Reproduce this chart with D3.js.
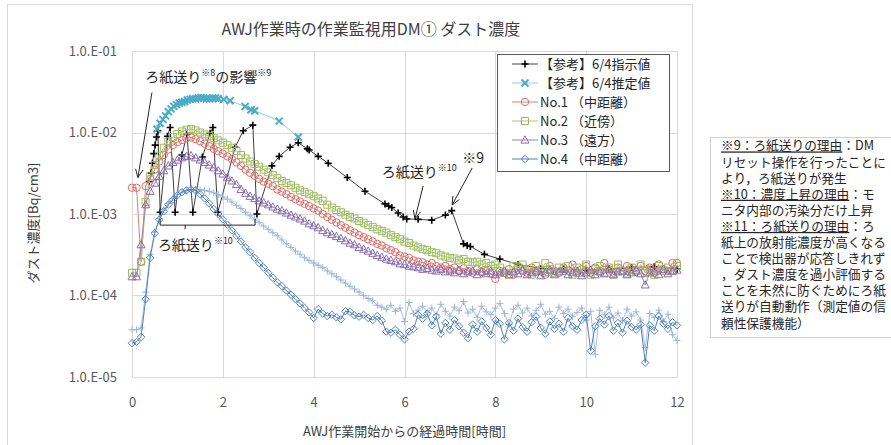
<!DOCTYPE html>
<html>
<head>
<meta charset="utf-8">
<script src="https://cdn.jsdelivr.net/npm/d3@7"></script>
<style>
body { margin: 0; background: #fff; }
text { font-family: "Noto Sans CJK JP", "Noto Sans", sans-serif; }
</style>
</head>
<body>
<svg width="891" height="445"></svg>
<script>
// Sample times (hours) for the monitor series
const hours = [0.0,0.1,0.2,0.3,0.4,0.5,0.6,0.7,0.8,0.9,1.0,1.1,1.2,1.3,1.4,1.5,1.6,1.7,1.8,1.9,
  2.0,2.1,2.2,2.3,2.4,2.5,2.6,2.7,2.8,2.9,3.0,3.1,3.2,3.3,3.4,3.5,3.6,3.7,3.8,3.9,
  4.0,4.1,4.2,4.3,4.4,4.5,4.6,4.7,4.8,4.9,5.0,5.1,5.2,5.3,5.4,5.5,5.6,5.7,5.8,5.9,
  6.0,6.1,6.2,6.3,6.4,6.5,6.6,6.7,6.8,6.9,7.0,7.1,7.2,7.3,7.4,7.5,7.6,7.7,7.8,7.9,
  8.0,8.1,8.2,8.3,8.4,8.5,8.6,8.7,8.8,8.9,9.0,9.1,9.2,9.3,9.4,9.5,9.6,9.7,9.8,9.9,
  10.0,10.1,10.2,10.3,10.4,10.5,10.6,10.7,10.8,10.9,11.0,11.1,11.2,11.3,11.4,11.5,11.6,11.7,11.8,11.9,12.0];

// No.1 (中距離)
const no1 = [2.1e-3,2.1e-3,2.6e-4,2.2e-3,2.7e-3,3.5e-3,4.4e-3,5.3e-3,6.2e-3,7.0e-3,7.6e-3,8.1e-3,8.5e-3,8.7e-3,8.3e-3,7.8e-3,7.3e-3,6.8e-3,6.3e-3,5.9e-3,
  5.5e-3,5.1e-3,4.7e-3,4.3e-3,3.9e-3,3.5e-3,3.2e-3,2.95e-3,2.7e-3,2.5e-3,2.35e-3,2.2e-3,2.0e-3,1.88e-3,1.75e-3,1.62e-3,1.52e-3,1.42e-3,1.33e-3,1.25e-3,
  1.17e-3,1.1e-3,1.0e-3,9.2e-4,8.5e-4,7.9e-4,7.3e-4,6.8e-4,6.3e-4,5.9e-4,5.5e-4,5.2e-4,4.9e-4,4.6e-4,4.3e-4,4.1e-4,3.8e-4,3.6e-4,3.4e-4,3.1e-4,
  3.0e-4,2.9e-4,2.7e-4,2.6e-4,2.55e-4,2.4e-4,2.5e-4,2.3e-4,2.2e-4,2.3e-4,2.1e-4,2.2e-4,2.0e-4,2.15e-4,2.0e-4,1.9e-4,2.1e-4,1.95e-4,2.0e-4,1.85e-4,
  1.6e-4,2.0e-4,1.9e-4,2.1e-4,1.8e-4,2.3e-4,2.0e-4,1.9e-4,2.2e-4,1.95e-4,2.1e-4,1.8e-4,2.3e-4,2.0e-4,1.9e-4,2.2e-4,2.0e-4,2.4e-4,1.9e-4,2.1e-4,
  2.3e-4,1.9e-4,2.2e-4,2.0e-4,2.5e-4,2.1e-4,1.9e-4,2.2e-4,2.0e-4,2.3e-4,2.1e-4,1.95e-4,2.3e-4,2.0e-4,2.2e-4,1.9e-4,2.4e-4,2.1e-4,2.0e-4,2.5e-4,2.5e-4];

// No.2 (近傍)
const no2 = [1.9e-4,1.9e-4,2.6e-4,1.4e-3,2.9e-3,4.0e-3,5.2e-3,6.5e-3,7.8e-3,8.8e-3,9.6e-3,1.03e-2,1.08e-2,1.1e-2,1.06e-2,1.0e-2,9.5e-3,9.0e-3,8.5e-3,8.0e-3,
  7.5e-3,7.0e-3,6.5e-3,5.9e-3,5.3e-3,4.8e-3,4.4e-3,4.1e-3,3.8e-3,3.5e-3,3.25e-3,3.0e-3,2.75e-3,2.55e-3,2.4e-3,2.25e-3,2.1e-3,1.95e-3,1.85e-3,1.75e-3,
  1.65e-3,1.55e-3,1.45e-3,1.3e-3,1.2e-3,1.12e-3,1.05e-3,9.8e-4,9.2e-4,8.8e-4,8.2e-4,7.8e-4,7.3e-4,6.9e-4,6.5e-4,6.2e-4,5.9e-4,5.5e-4,5.2e-4,4.9e-4,
  4.6e-4,4.4e-4,4.1e-4,3.9e-4,3.7e-4,3.6e-4,3.4e-4,3.3e-4,3.1e-4,3.0e-4,2.9e-4,2.85e-4,2.7e-4,2.8e-4,2.6e-4,2.55e-4,2.6e-4,2.4e-4,2.5e-4,2.3e-4,
  2.4e-4,2.2e-4,1.9e-4,1.8e-4,2.3e-4,2.2e-4,2.4e-4,2.1e-4,1.8e-4,2.3e-4,2.0e-4,2.5e-4,2.1e-4,1.9e-4,2.2e-4,2.0e-4,2.3e-4,1.8e-4,2.2e-4,1.9e-4,
  2.4e-4,1.8e-4,2.1e-4,2.3e-4,1.9e-4,2.2e-4,1.8e-4,2.4e-4,2.0e-4,1.85e-4,2.2e-4,2.0e-4,2.4e-4,1.9e-4,2.1e-4,1.8e-4,2.3e-4,2.0e-4,2.2e-4,2.0e-4,2.3e-4];

// No.3 (遠方)
const no3 = [1.7e-4,1.7e-4,4.2e-4,1.3e-3,1.9e-3,2.4e-3,2.9e-3,3.4e-3,3.9e-3,4.3e-3,4.6e-3,4.9e-3,5.1e-3,5.2e-3,4.9e-3,4.6e-3,4.3e-3,4.0e-3,3.7e-3,3.4e-3,
  3.1e-3,2.8e-3,2.55e-3,2.3e-3,2.0e-3,1.8e-3,1.65e-3,1.55e-3,1.45e-3,1.37e-3,1.3e-3,1.22e-3,1.15e-3,1.1e-3,1.03e-3,9.7e-4,9.2e-4,8.7e-4,8.2e-4,7.6e-4,
  7.2e-4,6.8e-4,6.3e-4,5.9e-4,5.6e-4,5.3e-4,5.0e-4,4.7e-4,4.4e-4,4.2e-4,3.9e-4,3.7e-4,3.5e-4,3.3e-4,3.1e-4,2.95e-4,2.8e-4,2.7e-4,2.6e-4,2.45e-4,
  2.4e-4,2.3e-4,2.25e-4,2.2e-4,2.1e-4,2.15e-4,2.05e-4,2.0e-4,2.1e-4,1.95e-4,2.0e-4,1.9e-4,2.05e-4,1.85e-4,1.95e-4,2.0e-4,1.8e-4,1.95e-4,1.85e-4,2.0e-4,
  1.8e-4,1.9e-4,2.0e-4,1.8e-4,1.95e-4,1.85e-4,2.05e-4,1.8e-4,1.9e-4,2.0e-4,1.75e-4,1.9e-4,2.05e-4,1.8e-4,1.95e-4,2.1e-4,1.8e-4,1.9e-4,2.0e-4,1.75e-4,
  1.9e-4,2.05e-4,1.8e-4,1.95e-4,1.85e-4,2.1e-4,1.8e-4,1.95e-4,2.0e-4,1.8e-4,1.9e-4,2.05e-4,1.85e-4,1.35e-4,1.9e-4,2.0e-4,1.8e-4,2.1e-4,1.85e-4,2.0e-4,2.05e-4];

// No.4 (中距離)
const no4 = [2.6e-5,2.7e-5,3.1e-5,9.0e-5,2.9e-4,5.8e-4,8.5e-4,1.08e-3,1.3e-3,1.5e-3,1.7e-3,1.85e-3,1.95e-3,2.0e-3,1.95e-3,1.75e-3,1.55e-3,1.35e-3,1.15e-3,1.0e-3,
  8.6e-4,7.4e-4,6.3e-4,5.4e-4,4.6e-4,3.9e-4,3.4e-4,2.9e-4,2.5e-4,2.2e-4,1.9e-4,1.65e-4,1.45e-4,1.3e-4,1.15e-4,1.02e-4,9.0e-5,8.0e-5,7.0e-5,6.2e-5,
  5.3e-5,6.8e-5,6.0e-5,5.6e-5,5.8e-5,5.4e-5,5.1e-5,6.4e-5,6.3e-5,5.7e-5,5.5e-5,5.8e-5,5.3e-5,5.0e-5,5.6e-5,4.9e-5,3.6e-5,3.5e-5,3.8e-5,3.3e-5,
  2.9e-5,3.6e-5,3.9e-5,5.8e-5,5.2e-5,6.0e-5,4.3e-5,5.5e-5,3.4e-5,4.6e-5,3.8e-5,5.0e-5,4.2e-5,3.5e-5,3.0e-5,4.4e-5,3.6e-5,4.8e-5,4.0e-5,3.3e-5,
  5.0e-5,4.5e-5,2.9e-5,4.6e-5,3.7e-5,5.2e-5,4.1e-5,3.6e-5,4.7e-5,5.5e-5,4.0e-5,3.4e-5,4.8e-5,3.9e-5,4.5e-5,3.6e-5,5.3e-5,4.2e-5,3.8e-5,5.0e-5,
  5.8e-5,2.1e-5,4.2e-5,5.2e-5,4.4e-5,5.6e-5,3.7e-5,4.6e-5,3.5e-5,4.9e-5,4.1e-5,3.8e-5,4.4e-5,1.5e-5,4.3e-5,3.7e-5,5.6e-5,4.5e-5,3.9e-5,4.7e-5,4.3e-5];

// unlabeled light-blue series
const extra = [3.8e-5,3.8e-5,4.0e-5,1.1e-4,3.2e-4,6.0e-4,8.8e-4,1.12e-3,1.35e-3,1.55e-3,1.72e-3,1.85e-3,1.95e-3,2.0e-3,2.0e-3,1.98e-3,1.95e-3,1.9e-3,1.82e-3,1.72e-3,
  1.62e-3,1.52e-3,1.4e-3,1.28e-3,1.17e-3,1.05e-3,9.5e-4,8.7e-4,7.9e-4,7.1e-4,6.5e-4,5.9e-4,5.4e-4,4.8e-4,4.3e-4,3.9e-4,3.5e-4,3.2e-4,2.9e-4,2.7e-4,
  2.5e-4,2.35e-4,2.2e-4,2.0e-4,1.85e-4,1.7e-4,1.55e-4,1.42e-4,1.3e-4,1.2e-4,1.1e-4,1.0e-4,9.2e-5,8.6e-5,7.6e-5,7.2e-5,6.8e-5,7.6e-5,6.4e-5,7.0e-5,
  4.8e-5,8.2e-5,6.0e-5,6.6e-5,7.4e-5,6.2e-5,7.0e-5,5.8e-5,7.8e-5,6.4e-5,5.6e-5,7.2e-5,6.5e-5,8.4e-5,6.1e-5,6.8e-5,5.4e-5,7.4e-5,6.3e-5,5.8e-5,
  7.0e-5,8.0e-5,6.0e-5,4.4e-5,6.8e-5,7.6e-5,6.1e-5,7.0e-5,5.6e-5,6.6e-5,7.8e-5,5.9e-5,6.4e-5,5.2e-5,7.2e-5,6.0e-5,6.8e-5,5.5e-5,6.2e-5,7.0e-5,
  5.0e-5,6.4e-5,1.9e-5,6.6e-5,5.8e-5,7.2e-5,5.3e-5,6.1e-5,4.9e-5,6.8e-5,5.6e-5,6.3e-5,5.0e-5,2.3e-5,6.0e-5,5.4e-5,6.6e-5,4.8e-5,5.9e-5,3.3e-5,2.8e-5];

// 【参考】6/4推定値
const estHours = [0.55,0.62,0.68,0.74,0.8,0.86,0.92,0.98,1.04,1.1,1.16,1.22,1.28,1.34,1.4,1.46,1.52,1.58,1.64,1.7,1.78,1.84,1.9,2.02,2.16,2.49,2.62,2.7,3.24,3.66];
const estValues = [1.1e-2,1.3e-2,1.45e-2,1.6e-2,1.8e-2,1.95e-2,2.1e-2,2.2e-2,2.3e-2,2.35e-2,2.4e-2,2.5e-2,2.55e-2,2.6e-2,2.6e-2,2.65e-2,2.7e-2,2.65e-2,2.6e-2,2.6e-2,2.65e-2,2.65e-2,2.6e-2,2.55e-2,2.45e-2,2.08e-2,1.9e-2,1.85e-2,1.38e-2,8.8e-3];

// 【参考】6/4指示値
const indHours = [0.38,0.42,0.45,0.48,0.51,0.54,0.57,0.62,0.78,0.84,0.95,1.1,1.21,1.34,1.55,1.72,1.78,1.89,2.27,2.45,2.66,2.75,
  3.08,3.24,3.48,3.66,3.86,3.9,4.1,4.32,4.74,5.13,5.57,5.65,5.72,5.86,5.97,6.05,6.3,6.6,6.9,7.04,7.3,7.38,7.45,7.76,8.1,8.5,9.0,9.5,10.0,10.5,11.0,11.5,12.0];
const indValues = [2.5e-3,3.2e-3,4.2e-3,5.5e-3,7.0e-3,8.8e-3,1.05e-2,1.05e-3,9.0e-3,1.15e-2,1.05e-3,5.3e-3,9.5e-3,1.05e-3,5.0e-3,9.8e-3,1.15e-2,1.05e-3,6.6e-3,1.05e-2,1.23e-2,1.0e-3,
  3.9e-3,5.1e-3,6.6e-3,7.5e-3,6.3e-3,6.1e-3,5.1e-3,4.2e-3,2.8e-3,1.9e-3,1.33e-3,1.25e-3,1.2e-3,1.03e-3,9.2e-4,8.7e-4,8.6e-4,8.4e-4,9.7e-4,1.1e-3,4.3e-4,4.1e-4,4.0e-4,3.2e-4,2.8e-4,2.4e-4,2.15e-4,2.1e-4,2.05e-4,2.1e-4,2.2e-4,2.25e-4,2.1e-4];

const xTicks = [0, 2, 4, 6, 8, 10, 12];
const yTicks = [1e-5, 1e-4, 1e-3, 1e-2, 1e-1];
const yTickLabels = ["1.0.E-05", "1.0.E-04", "1.0.E-03", "1.0.E-02", "1.0.E-01"];

const legendNames = ["【参考】6/4指示値", "【参考】6/4推定値", "No.1 （中距離）", "No.2 （近傍）", "No.3 （遠方）", "No.4 （中距離）"];

const noteLines = [
  ["※9：ろ紙送りの理由", "：DM"],
  ["", "リセット操作を行ったことに"],
  ["", "より，ろ紙送りが発生"],
  ["※10：濃度上昇の理由", "：モ"],
  ["", "ニタ内部の汚染分だけ上昇"],
  ["※11：ろ紙送りの理由", "：ろ"],
  ["", "紙上の放射能濃度が高くなる"],
  ["", "ことで検出器が応答しきれず"],
  ["", "，ダスト濃度を過小評価する"],
  ["", "ことを未然に防ぐためにろ紙"],
  ["", "送りが自動動作（測定値の信"],
  ["", "頼性保護機能）"]
];

const svg = d3.select("svg");
const plot = { left: 132, right: 677, top: 51, bottom: 377 };

const x = d3.scaleLinear().domain([0, 12]).range([plot.left, plot.right]);
const y = d3.scaleLog().domain([1e-5, 1e-1]).range([plot.bottom, plot.top]);

// chart area border
svg.append("rect").attr("x", 7.5).attr("y", 4.5).attr("width", 685).attr("height", 460)
  .attr("fill", "none").attr("stroke", "#d9d9d9");

// grid
svg.append("g").selectAll("line").data(yTicks).join("line")
  .attr("x1", plot.left).attr("x2", plot.right)
  .attr("y1", d => Math.round(y(d)) + 0.5).attr("y2", d => Math.round(y(d)) + 0.5)
  .attr("stroke", "#d9d9d9");
svg.append("g").selectAll("line").data(xTicks).join("line")
  .attr("y1", plot.top).attr("y2", plot.bottom)
  .attr("x1", d => Math.round(x(d)) + 0.5).attr("x2", d => Math.round(x(d)) + 0.5)
  .attr("stroke", "#d9d9d9");

// axes
const yAxis = svg.append("g").attr("transform", `translate(${plot.left},0)`)
  .call(d3.axisLeft(y).tickValues(yTicks).tickFormat((d, i) => yTickLabels[i]).tickSize(0).tickPadding(15));
const xAxis = svg.append("g").attr("transform", `translate(0,${plot.bottom})`)
  .call(d3.axisBottom(x).tickValues(xTicks).tickFormat(d3.format("d")).tickSize(0).tickPadding(21));
[yAxis, xAxis].forEach(a => {
  a.select(".domain").remove();
  a.selectAll("text").attr("fill", "#595959").style("font-size", "13px")
    .style("font-family", "'Noto Sans CJK JP', sans-serif");
});

// titles
svg.append("text").attr("x", 371).attr("y", 35).attr("text-anchor", "middle")
  .attr("fill", "#404040").style("font-size", "16px").text("AWJ作業時の作業監視用DM① ダスト濃度");
svg.append("text").attr("x", (plot.left + plot.right) / 2).attr("y", 436).attr("text-anchor", "middle")
  .attr("fill", "#404040").style("font-size", "13px").text("AWJ作業開始からの経過時間[時間]");
svg.append("text").attr("transform", "translate(38,223) rotate(-90)").attr("text-anchor", "middle")
  .attr("fill", "#404040").style("font-size", "13px").text("ダスト濃度[Bq/cm3]");

// marker shapes
const shapes = {
  plus: "M-3.5,0H3.5M0,-3.5V3.5",
  cross: "M-3.5,-3.5L3.5,3.5M-3.5,3.5L3.5,-3.5",
  circle: "M3.7,0A3.7,3.7 0 1,1 -3.7,0A3.7,3.7 0 1,1 3.7,0Z",
  square: "M-3.5,-3.5H3.5V3.5H-3.5Z",
  triangle: "M0,-4.2L4,3.1H-4Z",
  diamond: "M0,-3.7L3.7,0L0,3.7L-3.7,0Z"
};

const indicated = { xs: indHours, ys: indValues, line: "#404040", mark: "#000000", shape: "plus", sw: 1.6 };
const estimated = { xs: estHours, ys: estValues, line: "#8fd0e0", mark: "#4bacc6", shape: "cross", sw: 2 };
const s1 = { xs: hours, ys: no1, line: "#e07b78", mark: "#e06c68", shape: "circle", sw: 1 };
const s2 = { xs: hours, ys: no2, line: "#a9c77a", mark: "#9bbb59", shape: "square", sw: 1 };
const s3 = { xs: hours, ys: no3, line: "#9b86b8", mark: "#8a6db0", shape: "triangle", sw: 1 };
const s4 = { xs: hours, ys: no4, line: "#4f81bd", mark: "#4f81bd", shape: "diamond", sw: 1 };
const sx = { xs: hours, ys: extra, line: "#a9c0de", mark: "#9bb5da", shape: "plus", sw: 1 };

// draw order: reference series first, monitors on top
const drawOrder = [indicated, estimated, s1, s2, s3, sx, s4];

const line = d3.line().x(d => x(d[0])).y(d => y(d[1]));

drawOrder.forEach(s => {
  const pts = s.xs.map((h, i) => [h, s.ys[i]]);
  const g = svg.append("g");
  g.append("path").attr("d", line(pts)).attr("fill", "none")
    .attr("stroke", s.line).attr("stroke-width", 1);
  g.selectAll("path.m").data(pts).join("path").attr("class", "m")
    .attr("transform", d => `translate(${x(d[0])},${y(d[1])})`)
    .attr("d", shapes[s.shape]).attr("fill", "none")
    .attr("stroke", s.mark).attr("stroke-width", s.sw);
});

// annotations
function arrow(t1, v1, t2, v2) {
  const x1 = x(t1), y1 = y(v1), x2 = x(t2), y2 = y(v2);
  const a = Math.atan2(y2 - y1, x2 - x1);
  const len = 9, spread = 0.42;
  svg.append("path")
    .attr("d", `M${x1},${y1}L${x2},${y2}` +
      `M${x2 - len * Math.cos(a - spread)},${y2 - len * Math.sin(a - spread)}L${x2},${y2}` +
      `L${x2 - len * Math.cos(a + spread)},${y2 - len * Math.sin(a + spread)}`)
    .attr("fill", "none").attr("stroke", "#262626").attr("stroke-width", 1);
}

function label(t, v, parts, size) {
  const txt = svg.append("text").attr("x", x(t)).attr("y", y(v))
    .attr("fill", "#262626").style("font-size", size + "px");
  parts.forEach(p => {
    const ts = txt.append("tspan").text(p[0]);
    if (p[1]) ts.style("font-size", "9px").attr("dy", -6);
    else if (p[2]) ts.attr("dy", 6);
  });
}

label(0.29, 4.2e-2, [["ろ紙送り"], ["※8", true], ["の影響", false, true], ["※9", true]], 14);
arrow(0.44, 3.1e-2, 0.13, 2.8e-3);

// bracket for filter feed
const bt0 = 0.62, bt1 = 2.71, bv = 7.3e-4, bEnd = 8.7e-4, bMidT = 1.17, bMid = 6.5e-4;
svg.append("path")
  .attr("d", `M${x(bt0)},${y(bEnd)}V${y(bv)}H${x(bt1)}V${y(bEnd)}M${x(bMidT)},${y(bv)}V${y(bMid)}`)
  .attr("fill", "none").attr("stroke", "#262626").attr("stroke-width", 1);
label(0.57, 3.6e-4, [["ろ紙送り"], ["※10", true]], 14);

label(5.5, 2.85e-3, [["ろ紙送り"], ["※10", true]], 14);
arrow(6.41, 2.21e-3, 6.23, 8.7e-4);

label(7.27, 4.2e-3, [["※9"]], 14);
arrow(7.49, 3.67e-3, 7.05, 1.29e-3);

// legend
const lg = svg.append("g");
lg.append("rect").attr("x", 497.5).attr("y", 54.5).attr("width", 172).attr("height", 117)
  .attr("fill", "#fff").attr("stroke", "#595959");
const legendSeries = [indicated, estimated, s1, s2, s3, s4];
legendNames.forEach((name, i) => {
  const s = legendSeries[i];
  const ly = 64 + i * 19;
  lg.append("line").attr("x1", 512).attr("x2", 538).attr("y1", ly).attr("y2", ly)
    .attr("stroke", s.line).attr("stroke-width", 1);
  lg.append("path").attr("transform", `translate(525,${ly})`).attr("d", shapes[s.shape])
    .attr("fill", "none").attr("stroke", s.mark).attr("stroke-width", s.sw);
  lg.append("text").attr("x", 540).attr("y", ly).attr("dy", "0.35em")
    .attr("fill", "#262626").style("font-size", "13px").text(name);
});

// note box
svg.append("rect").attr("x", 710.5).attr("y", 137.5).attr("width", 200).attr("height", 200)
  .attr("fill", "#fff").attr("stroke", "#d0d0d0");
noteLines.forEach((ln, i) => {
  const t = svg.append("text").attr("x", 721).attr("y", 146 + i * 16.1).attr("dy", "0.35em")
    .attr("fill", "#262626").style("font-size", "12.7px");
  if (ln[0]) t.append("tspan").style("text-decoration", "underline").text(ln[0]);
  t.append("tspan").text(ln[1]);
});
</script>
</body>
</html>
